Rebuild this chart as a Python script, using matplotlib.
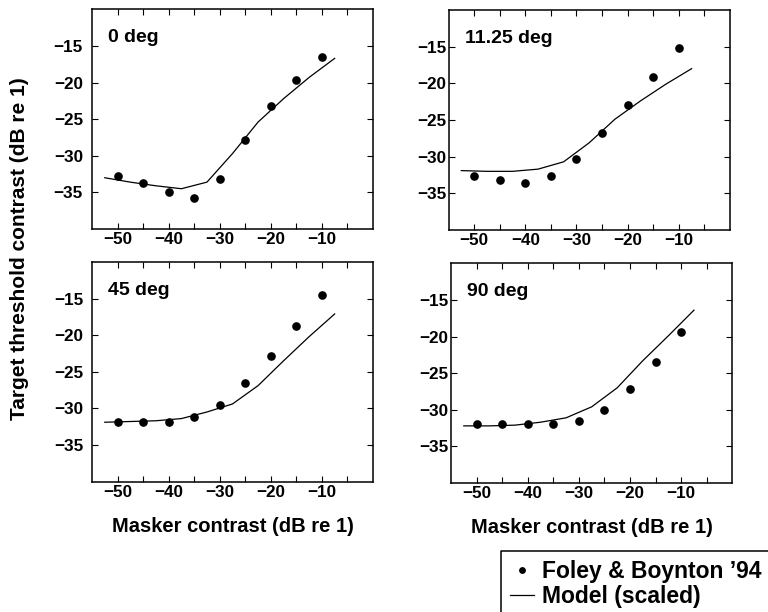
import matplotlib
matplotlib.use("Agg")
import matplotlib.pyplot as plt
from matplotlib.lines import Line2D

plt.rcParams['font.family'] = ['Liberation Sans', 'DejaVu Sans']
plt.rcParams['font.weight'] = 'bold'

# ---- data -------------------------------------------------------------
masker_x = [-50, -45, -40, -35, -30, -25, -20, -15, -10]
model_x = [-52.5, -47.5, -42.5, -37.5, -32.5, -27.5, -22.5, -17.5, -12.5, -7.5]

titles = ["0 deg", "11.25 deg", "45 deg", "90 deg"]

data_0 = [-32.8, -33.7, -35.0, -35.8, -33.2, -27.8, -23.2, -19.7, -16.5]
model_0 = [-33.0, -33.6, -34.1, -34.5, -33.6, -29.7, -25.4, -22.2, -19.3, -16.7]

data_11 = [-32.7, -33.2, -33.6, -32.7, -30.3, -26.8, -23.0, -19.1, -15.2]
model_11 = [-31.9, -32.0, -32.0, -31.7, -30.7, -28.1, -24.9, -22.4, -20.1, -18.0]

data_45 = [-31.9, -31.9, -31.8, -31.2, -29.5, -26.6, -22.8, -18.7, -14.5]
model_45 = [-31.9, -31.8, -31.7, -31.4, -30.5, -29.4, -26.9, -23.5, -20.2, -17.1]

data_90 = [-31.9, -31.9, -31.9, -31.9, -31.5, -30.0, -27.2, -23.5, -19.4]
model_90 = [-32.2, -32.2, -32.1, -31.7, -31.1, -29.6, -27.0, -23.3, -19.9, -16.4]

x_major = [-50, -40, -30, -20, -10]
x_minor = [-45, -35, -25, -15, -5]
y_ticks = [-35, -30, -25, -20, -15]

legend_labels = ["Foley & Boynton \u201994", "Model (scaled)"]
xlabel = "Masker contrast (dB re 1)"
ylabel = "Target threshold contrast (dB re 1)"

# ---- figure -----------------------------------------------------------
W, H = 768, 612
fig = plt.figure(figsize=(W / 100, H / 100), dpi=100)


def pos(l, t, r, b):
    return [l / W, 1 - b / H, (r - l) / W, (b - t) / H]


boxes = [pos(92, 9.3, 373, 229), pos(448.5, 10, 730, 230),
         pos(92, 262, 373, 481.5), pos(451, 263.3, 732.3, 483)]
series = [(data_0, model_0), (data_11, model_11),
          (data_45, model_45), (data_90, model_90)]
ypads = [6.5, 1.6, 6.0, 2.0]

handles = None
for i, (box, (d, m), title) in enumerate(zip(boxes, series, titles)):
    ax = fig.add_axes(box)
    ln, = ax.plot(model_x, m, color='black', lw=0.9)
    pt, = ax.plot(masker_x, d, 'o', color='black', ms=5.2, ls='none')
    if handles is None:
        handles = [pt, ln]
    ax.set_xlim(-55, 0)
    ax.set_ylim(-40, -10)
    ax.set_xticks(x_major)
    ax.set_xticks(x_minor, minor=True)
    ax.set_yticks(y_ticks)
    ax.tick_params(which='both', direction='in', top=True, right=True,
                   length=4.3, width=0.8, labelsize=12.3)
    ax.tick_params(axis='x', which='both', pad=2.5)
    ax.tick_params(axis='y', which='both', pad=ypads[i])
    for s in ax.spines.values():
        s.set_linewidth(1.1)
    ax.text(0.058, 0.85, title, transform=ax.transAxes, fontsize=14,
            fontweight='bold', ha='left', va='baseline')
    if i >= 2:
        ax.set_xlabel(xlabel, fontsize=14.5, fontweight='bold', labelpad=12)

fig.text(20 / W, 1 - 249 / H, ylabel, rotation=90, ha='center', va='center',
         fontsize=15, fontweight='bold')

# legend box: only left and top edges are inside the figure
bx, by = 500.7 / W, 1 - 550.7 / H
fig.add_artist(Line2D([bx, bx, 1.0], [0.0, by, by],
                      transform=fig.transFigure, color='black', lw=1.1,
                      solid_capstyle='butt'))
leg = fig.legend(handles, legend_labels, loc='upper left',
                 bbox_to_anchor=(bx, by),
                 borderaxespad=0, frameon=False, markerscale=0.75,
                 prop=dict(weight='bold', size=16.5), handlelength=1.05,
                 handletextpad=0.35, borderpad=0.4, labelspacing=0.1)

fig.savefig("out.png", dpi=100, facecolor='white')
